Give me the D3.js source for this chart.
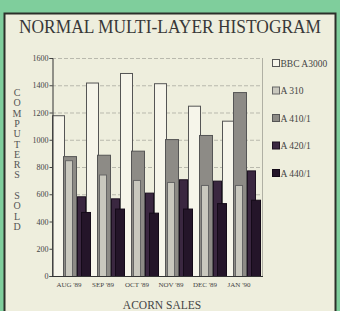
<!DOCTYPE html>
<html><head><meta charset="utf-8">
<script src="https://cdn.jsdelivr.net/npm/d3@7"></script>
<style>html,body{margin:0;padding:0;background:#7fce9c;}svg{display:block;}</style>
</head><body>
<svg id="chart" width="340" height="311"></svg>
<script>
const months = ["AUG '89", "SEP '89", "OCT '89", "NOV '89", "DEC '89", "JAN '90"];
const seriesNames = ["BBC A3000", "A 310", "A 410/1", "A 420/1", "A 440/1"];
const bbcA3000 = [1180, 1420, 1490, 1415, 1250, 1140];
const a310 = [850, 745, 705, 690, 668, 668];
const a4101 = [880, 890, 920, 1005, 1035, 1350];
const a4201 = [585, 570, 612, 710, 700, 775];
const a4401 = [470, 495, 465, 495, 535, 560];
const yTicks = [0, 200, 400, 600, 800, 1000, 1200, 1400, 1600];

const seriesValues = [bbcA3000, a310, a4101, a4201, a4401];
// layout / style (not data)
const fills = ["#f6f5ea", "#c9c8be", "#8d8b86", "#3a2740", "#241529"];
const strokes = ["#555", "#666", "#555", "#1c1020", "#140a18"];
const offsets = [0, 13, 11, 25, 29];
const widths = [12, 7, 13, 8, 9];
const drawOrder = [0, 2, 1, 3, 4];

const svg = d3.select("#chart");
svg.append("rect").attr("x", 0).attr("y", 0).attr("width", 340).attr("height", 311).attr("fill", "#7fce9c");
svg.append("rect").attr("x", 4.5).attr("y", 13.5).attr("width", 331).attr("height", 300)
  .attr("fill", "#eeeedd").attr("stroke", "#2c302a").attr("stroke-width", 2);

svg.append("text").attr("transform", "translate(170,33) scale(1,1.1)").attr("text-anchor", "middle")
  .attr("font-family", "Liberation Serif").attr("font-size", 17.4)
  .attr("fill", "#383838").text("NORMAL MULTI-LAYER HISTOGRAM");

const x = d3.scaleBand().domain(months).range([52, 256]).paddingInner(0).paddingOuter(0);
const y = d3.scaleLinear().domain([0, 1600]).range([276, 58]);

svg.append("g").selectAll("line").data(yTicks.filter(d => d > 0)).join("line")
  .attr("x1", 52).attr("x2", 262).attr("y1", d => y(d) + 0.5).attr("y2", d => y(d) + 0.5)
  .attr("stroke", "#b9b9ad").attr("stroke-width", 1).attr("stroke-dasharray", "4,2");
svg.append("line").attr("x1", 262.5).attr("x2", 262.5).attr("y1", y(1600)).attr("y2", y(0))
  .attr("stroke", "#b0b0a4");

drawOrder.forEach(si => {
  svg.append("g").selectAll("rect").data(seriesValues[si]).join("rect")
    .attr("x", (d, i) => x(months[i]) + offsets[si] + 0.5)
    .attr("y", d => y(d) + 0.5)
    .attr("width", widths[si])
    .attr("height", d => y(0) - y(d))
    .attr("fill", fills[si]).attr("stroke", strokes[si]).attr("stroke-width", 1);
});

const yAxis = d3.axisLeft(y).tickValues(yTicks).tickFormat(d3.format("d")).tickSize(3).tickPadding(1);
const gy = svg.append("g").attr("transform", "translate(52.5,0)").call(yAxis);
gy.select(".domain").attr("stroke", "#333");
gy.selectAll(".tick line").attr("stroke", "#444");
gy.selectAll("text").attr("font-family", "Liberation Serif").attr("font-size", 8).attr("fill", "#444");

svg.append("line").attr("x1", 52).attr("x2", 263).attr("y1", 276.5).attr("y2", 276.5).attr("stroke", "#333");

const xAxis = d3.axisBottom(x).tickSize(0).tickPadding(5);
const gx = svg.append("g").attr("transform", "translate(0,277)").call(xAxis);
gx.select(".domain").remove();
gx.selectAll("text").attr("font-family", "Liberation Serif").attr("font-size", 7).attr("fill", "#444");

const yTitle = "COMPUTERS SOLD".split("");
svg.append("g").selectAll("text").data(yTitle).join("text")
  .attr("x", 17).attr("y", (d, i) => 96 + i * 10.3).attr("text-anchor", "middle")
  .attr("font-family", "Liberation Serif").attr("font-size", 10).attr("fill", "#555").text(d => d);

svg.append("text").attr("x", 162).attr("y", 309).attr("text-anchor", "middle")
  .attr("font-family", "Liberation Serif").attr("font-size", 11.5).attr("fill", "#444").text("ACORN SALES");

const lg = svg.append("g").selectAll("g").data(seriesNames).join("g")
  .attr("transform", (d, i) => `translate(272,${59 + i * 27.5})`);
lg.append("rect").attr("x", 0.5).attr("y", 0.5).attr("width", 7).attr("height", 7)
  .attr("fill", (d, i) => fills[i]).attr("stroke", (d, i) => strokes[i]);
lg.append("text").attr("x", 8.5).attr("y", 7.5).attr("font-family", "Liberation Serif")
  .attr("font-size", 9.5).attr("fill", "#444").text(d => d);
</script>
</body></html>
